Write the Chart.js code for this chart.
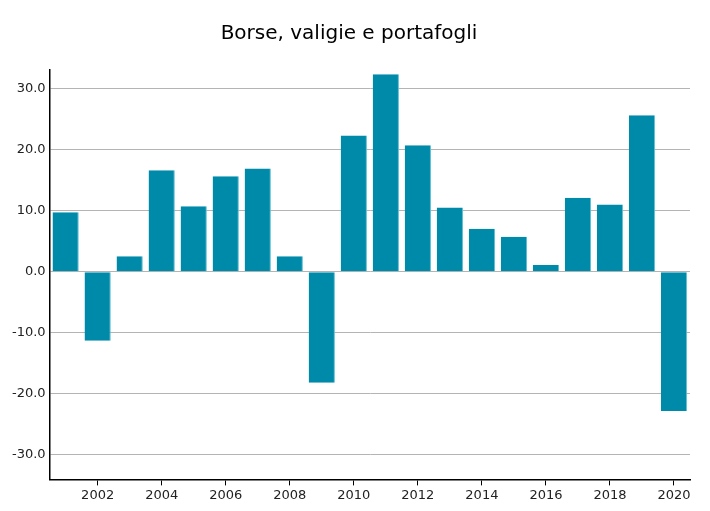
<!DOCTYPE html>
<html>
<head>
<meta charset="utf-8">
<script src="https://cdn.jsdelivr.net/npm/chart.js@4/dist/chart.umd.min.js"></script>
<style>
  html, body { margin: 0; padding: 0; background: #fff; }
  #wrap { width: 710px; height: 511px; }
</style>
</head>
<body>
<div id="wrap"><canvas id="chart" width="710" height="511"></canvas></div>
<script>
const years = ['2001', '2002', '2003', '2004', '2005', '2006', '2007', '2008', '2009', '2010',
  '2011', '2012', '2013', '2014', '2015', '2016', '2017', '2018', '2019', '2020'];
const values = [9.7, -11.3, 2.5, 16.6, 10.7, 15.6, 16.9, 2.5, -18.2, 22.3,
  32.3, 20.7, 10.5, 7.0, 5.7, 1.1, 12.1, 11.0, 25.6, -22.8];
const yTicks = [-30, -20, -10, 0, 10, 20, 30];

Chart.defaults.font.family = 'DejaVu Sans';
Chart.defaults.color = '#222';

new Chart(document.getElementById('chart'), {
  type: 'bar',
  data: {
    labels: years,
    datasets: [{
      label: 'Borse, valigie e portafogli',
      data: values,
      backgroundColor: '#008aa9',
      borderColor: '#5cc0d6',
      borderWidth: { left: 0, top: 0, bottom: 0, right: 1 },
      borderSkipped: false,
      categoryPercentage: 1,
      barPercentage: 0.82
    }]
  },
  options: {
    responsive: false,
    animation: false,
    layout: { padding: { left: 8, right: 20, top: 8, bottom: 6 } },
    plugins: {
      legend: { display: false },
      tooltip: { enabled: false },
      title: {
        display: true,
        text: 'Borse, valigie e portafogli',
        color: '#000',
        font: { size: 20, weight: 'normal' },
        padding: { top: 14, bottom: 24 }
      }
    },
    scales: {
      x: {
        offset: true,
        border: { color: '#000', width: 1.5 },
        grid: {
          offset: false,
          drawOnChartArea: false,
          tickLength: 6,
          color: ctx => (ctx.index % 2 === 1 ? '#000' : 'rgba(0,0,0,0)')
        },
        ticks: {
          autoSkip: false,
          maxRotation: 0,
          font: { size: 13 },
          padding: 2,
          callback: (v, i) => (i % 2 === 1 ? years[i] : '')
        }
      },
      y: {
        min: -34,
        max: 33,
        border: { color: '#000', width: 1.5 },
        afterBuildTicks: axis => { axis.ticks = yTicks.map(v => ({ value: v })); },
        grid: { color: '#b4b4b4', drawTicks: false, lineWidth: 1 },
        ticks: {
          font: { size: 13 },
          padding: 4,
          callback: v => v.toFixed(1)
        }
      }
    }
  }
});
</script>
</body>
</html>
